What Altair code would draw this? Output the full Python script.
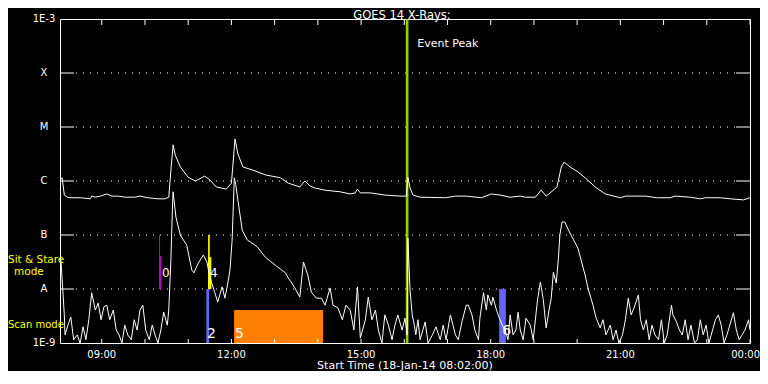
import altair as alt
import pandas as pd

FONT = "DejaVu Sans"

# time axis: minutes after start time 18-Jan-14 08:02:00; flux given as log10(W/m^2)
long_min = [0, 1, 3, 6, 10, 14, 28, 42, 44, 49,
            56, 65, 72, 81, 90, 104, 111, 122, 136, 146,
            151, 154, 157, 160, 167, 178, 188, 201, 208, 217,
            231, 238, 243, 247, 254, 268, 286, 306, 317, 333,
            340, 347, 354, 368, 389, 403, 410, 413, 417, 431,
            451, 472, 481, 483, 486, 490, 500, 535, 549, 564,
            585, 599, 611, 625, 639, 646, 660, 668, 675, 685,
            690, 696, 700, 708, 719, 729, 743, 757, 778, 785,
            799, 814, 828, 847, 854, 875, 889, 896, 917, 931,
            949, 958]
long_log = [-6.26, -5.97, -5.94, -6.26, -6.30, -6.31, -6.31, -6.33, -6.28, -6.30,
            -6.28, -6.24, -6.28, -6.28, -6.30, -6.30, -6.28, -6.31, -6.33, -6.33,
            -6.30, -5.80, -5.33, -5.52, -5.74, -5.93, -6.00, -5.91, -5.98, -6.11,
            -6.15, -6.04, -5.22, -5.50, -5.74, -5.80, -5.89, -5.94, -6.04, -6.11,
            -6.00, -6.09, -6.13, -6.17, -6.20, -6.24, -6.22, -6.15, -6.22, -6.22,
            -6.26, -6.28, -6.28, -5.93, -6.13, -6.26, -6.30, -6.31, -6.28, -6.28,
            -6.31, -6.24, -6.26, -6.30, -6.28, -6.30, -6.30, -6.17, -6.28, -6.17,
            -6.11, -5.74, -5.65, -5.74, -5.83, -5.94, -6.11, -6.24, -6.31, -6.28,
            -6.28, -6.28, -6.31, -6.31, -6.28, -6.30, -6.33, -6.31, -6.31, -6.33,
            -6.35, -6.31]

short_min = [0, 1, 3, 6, 7, 11, 15, 19, 24, 28,
             32, 36, 40, 44, 49, 53, 57, 61, 65, 69,
             74, 78, 82, 86, 90, 94, 99, 103, 107, 111,
             115, 119, 124, 128, 132, 136, 140, 144, 149, 151,
             154, 156, 157, 161, 167, 176, 183, 186, 192, 199,
             204, 208, 215, 219, 225, 229, 233, 236, 239, 242,
             244, 247, 253, 260, 274, 285, 299, 313, 317, 322,
             326, 333, 338, 344, 349, 356, 363, 368, 375, 379,
             386, 392, 397, 403, 408, 413, 417, 424, 428, 433,
             438, 442, 447, 451, 456, 461, 465, 469, 475, 479,
             482, 483, 486, 489, 492, 494, 497, 500, 507, 511,
             517, 522, 528, 532, 536, 542, 549, 553, 558, 564,
             567, 572, 576, 581, 583, 588, 592, 594, 599, 601,
             606, 610, 614, 618, 622, 625, 629, 633, 636, 639,
             643, 647, 653, 657, 663, 667, 671, 675, 679, 682,
             685, 689, 692, 694, 697, 701, 706, 713, 719, 729,
             733, 740, 744, 750, 754, 758, 764, 768, 772, 776,
             781, 785, 789, 793, 797, 803, 806, 810, 814, 818,
             822, 826, 831, 835, 839, 843, 849, 851, 856, 860,
             864, 868, 872, 876, 881, 885, 889, 893, 897, 901,
             906, 910, 914, 918, 922, 926, 935, 939, 943, 947,
             951, 956, 958]
short_log = [-7.33, -7.40, -7.83, -8.48, -8.85, -8.67, -8.52, -8.94, -8.85, -9.00,
             -8.70, -8.94, -8.57, -8.07, -8.39, -8.26, -8.57, -8.33, -8.30, -8.57,
             -8.39, -8.76, -8.85, -9.00, -8.67, -8.85, -8.94, -8.57, -8.76, -8.39,
             -8.30, -8.76, -8.94, -8.67, -8.85, -9.00, -8.76, -8.43, -8.67, -8.39,
             -7.46, -6.54, -6.20, -6.67, -7.00, -7.19, -7.65, -7.70, -7.52, -7.37,
             -7.50, -7.78, -8.07, -8.24, -7.96, -8.17, -7.89, -7.65, -7.09, -5.94,
             -6.07, -6.35, -6.91, -7.09, -7.22, -7.41, -7.56, -7.70, -7.80, -7.89,
             -7.98, -8.15, -7.50, -7.74, -8.06, -8.17, -8.17, -8.30, -7.98, -8.30,
             -8.35, -8.57, -8.30, -8.39, -8.76, -7.96, -8.91, -8.57, -8.15, -8.57,
             -8.39, -8.76, -9.00, -8.48, -8.67, -8.94, -8.67, -8.48, -8.76, -8.54,
             -8.85, -7.06, -8.02, -8.48, -8.67, -8.85, -8.57, -8.94, -8.61, -9.00,
             -8.85, -8.70, -8.94, -8.67, -8.94, -8.48, -8.85, -8.94, -8.61, -8.30,
             -8.30, -8.48, -8.76, -8.94, -8.54, -8.07, -8.39, -8.11, -8.30, -8.15,
             -8.39, -8.54, -8.67, -8.76, -8.94, -8.48, -8.85, -8.76, -8.43, -8.76,
             -8.94, -8.54, -8.67, -8.94, -8.20, -7.87, -8.20, -8.72, -8.39, -8.17,
             -7.69, -7.89, -7.43, -7.00, -6.76, -6.76, -6.91, -7.09, -7.24, -7.74,
             -7.98, -8.30, -8.52, -8.72, -8.57, -8.85, -8.67, -8.94, -8.76, -9.00,
             -8.85, -8.57, -8.17, -8.48, -8.35, -8.11, -8.57, -8.76, -8.57, -8.94,
             -8.67, -8.85, -8.94, -8.57, -9.00, -8.85, -8.30, -8.48, -8.61, -8.76,
             -8.85, -8.57, -8.94, -8.67, -9.00, -8.94, -8.57, -8.85, -8.67, -9.00,
             -8.76, -8.57, -8.48, -8.67, -9.00, -8.85, -8.44, -8.76, -8.94, -8.85,
             -8.76, -8.57, -8.76]

# flux class levels (log10) and their labels
level_exp = [-9, -8, -7, -6, -5, -4, -3]
level_names = ["1E-9", "A", "B", "C", "M", "X", "1E-3"]
grid_exp = [-8, -7, -6, -5, -4]
hour_ticks = [58 + 60 * k for k in range(16)]  # minutes after 08:02 of each full hour
hour_label_min = [58, 238, 418, 598, 778]
hour_label_text = ["09:00", "12:00", "15:00", "18:00", "21:00"]
last_label_text = "00:00"  # label of the right edge (minute 958)

# observation-mode markers: start/end minute, low/high log10 flux, colour
mk_start = [137.5, 137.5, 205.6, 205.6, 203.2, 241.7, 609.7, 480.1]
mk_end = [138.9, 140.7, 207.9, 210.2, 207.0, 365.3, 619.0, 483.8]
mk_lo = [-8.0, -8.0, -8.0, -8.0, -9.0, -9.0, -9.0, -9.0]
mk_hi = [-7.0, -7.39, -7.0, -7.41, -8.0, -8.39, -8.0, -3.0]
mk_color = ["#c000c0", "#c000c0", "#ffff00", "#ffff00", "#6464ff", "#ff8000", "#6464ff", "#99cc00"]

lab_text = ["0", "4", "2", "5", "6", "Event Peak"]
lab_min = [141.7, 208.3, 204.2, 243.0, 614.0, 496.0]
lab_exp = [-7.78, -7.78, -8.91, -8.91, -8.85, -3.52]
lab_size = [12, 12, 14, 14, 14, 11]

title_text = "GOES 14 X-Rays:"
xtitle_text = "Start Time (18-Jan-14 08:02:00)"

# ---------------------------------------------------------------- data frames
lines = pd.concat([
    pd.DataFrame({"minute": long_min, "flux": [10 ** v for v in long_log], "ch": "long"}),
    pd.DataFrame({"minute": short_min, "flux": [10 ** v for v in short_log], "ch": "short"}),
])
grid_df = pd.DataFrame({"flux": [10 ** e for e in grid_exp]})
level_df = pd.DataFrame({"flux": [10 ** e for e in level_exp], "t": level_names})
hour_df = pd.DataFrame({"minute": hour_ticks})
hlab_df = pd.DataFrame({"minute": hour_label_min, "t": hour_label_text})
mk_df = pd.DataFrame({"s": mk_start, "e": mk_end,
                      "lo": [10 ** v for v in mk_lo], "hi": [10 ** v for v in mk_hi],
                      "c": mk_color})
lab_df = pd.DataFrame({"t": lab_text, "minute": lab_min,
                       "flux": [10 ** v for v in lab_exp], "size": lab_size})

xs = alt.Scale(domain=[0, 958], nice=False, zero=False)
ys = alt.Scale(type="log", domain=[1e-9, 1e-3], nice=False)

X = lambda f: alt.X(f, scale=xs, axis=None)
Y = lambda f: alt.Y(f, scale=ys, axis=None)

grid_dots = alt.Chart(grid_df).mark_rule(color="white", strokeDash=[1, 6], strokeWidth=1).encode(
    y=Y("flux:Q"), x=alt.value(16), x2=alt.value(676))
grid_left = alt.Chart(grid_df).mark_rule(color="white", strokeWidth=1).encode(
    y=Y("flux:Q"), x=alt.value(0), x2=alt.value(14))
grid_right = alt.Chart(grid_df).mark_rule(color="white", strokeWidth=1).encode(
    y=Y("flux:Q"), x=alt.value(676), x2=alt.value(690))
tick_top = alt.Chart(hour_df).mark_rule(color="white", strokeWidth=1).encode(
    x=X("minute:Q"), y=alt.value(0), y2=alt.value(6))
tick_bot = alt.Chart(hour_df).mark_rule(color="white", strokeWidth=1).encode(
    x=X("minute:Q"), y=alt.value(320), y2=alt.value(324))

markers = alt.Chart(mk_df).mark_rect().encode(
    x=X("s:Q"), x2="e:Q", y=Y("lo:Q"), y2="hi:Q", color=alt.Color("c:N", scale=None))

curves = alt.Chart(lines).mark_line(color="white", strokeWidth=1, clip=True).encode(
    x=X("minute:Q"), y=Y("flux:Q"), detail="ch:N")

labels = alt.Chart(lab_df).mark_text(color="white", align="left", baseline="alphabetic", font=FONT).encode(
    x=X("minute:Q"), y=Y("flux:Q"), text="t:N", size=alt.Size("size:Q", scale=None))

ylabels = alt.Chart(level_df).mark_text(color="white", align="center", baseline="middle",
                                        font=FONT, fontSize=10).encode(
    y=Y("flux:Q"), x=alt.value(-16), text="t:N")
xlabels = alt.Chart(hlab_df).mark_text(color="white", align="center", baseline="alphabetic",
                                       font=FONT, fontSize=10).encode(
    x=X("minute:Q"), y=alt.value(339), text="t:N")

one = pd.DataFrame({"k": [0]})
def free_text(txt, x, y, size, color="white", align="left"):
    return alt.Chart(one).mark_text(text=txt, color=color, fontSize=size, font=FONT,
                                    align=align, baseline="alphabetic").encode(
        x=alt.value(x), y=alt.value(y))

last_label = free_text(last_label_text, 700, 339, 10, align="right")
title = free_text(title_text, 342, 0, 11.5, align="center")
xtitle = free_text(xtitle_text, 345, 350, 11, align="center")
sit = free_text("Sit & Stare", -52, 244, 10.5, color="#ffff00")
mode1 = free_text("mode", -46, 256, 10.5, color="#ffff00")
scan = free_text("Scan mode", -52, 309, 10, color="#ffff00")

chart = alt.layer(
    grid_dots, grid_left, grid_right, markers, curves, tick_top, tick_bot,
    labels, ylabels, xlabels, last_label, title, xtitle, sit, mode1, scan
).properties(
    width=690, height=324, background="black",
    padding={"left": 52, "top": 11, "right": 10, "bottom": 28},
    autosize=alt.AutoSizeParams(type="none"),
).configure_view(stroke="white", strokeWidth=1)

chart.save("out.html", embed_options={"renderer": "svg", "actions": False})
